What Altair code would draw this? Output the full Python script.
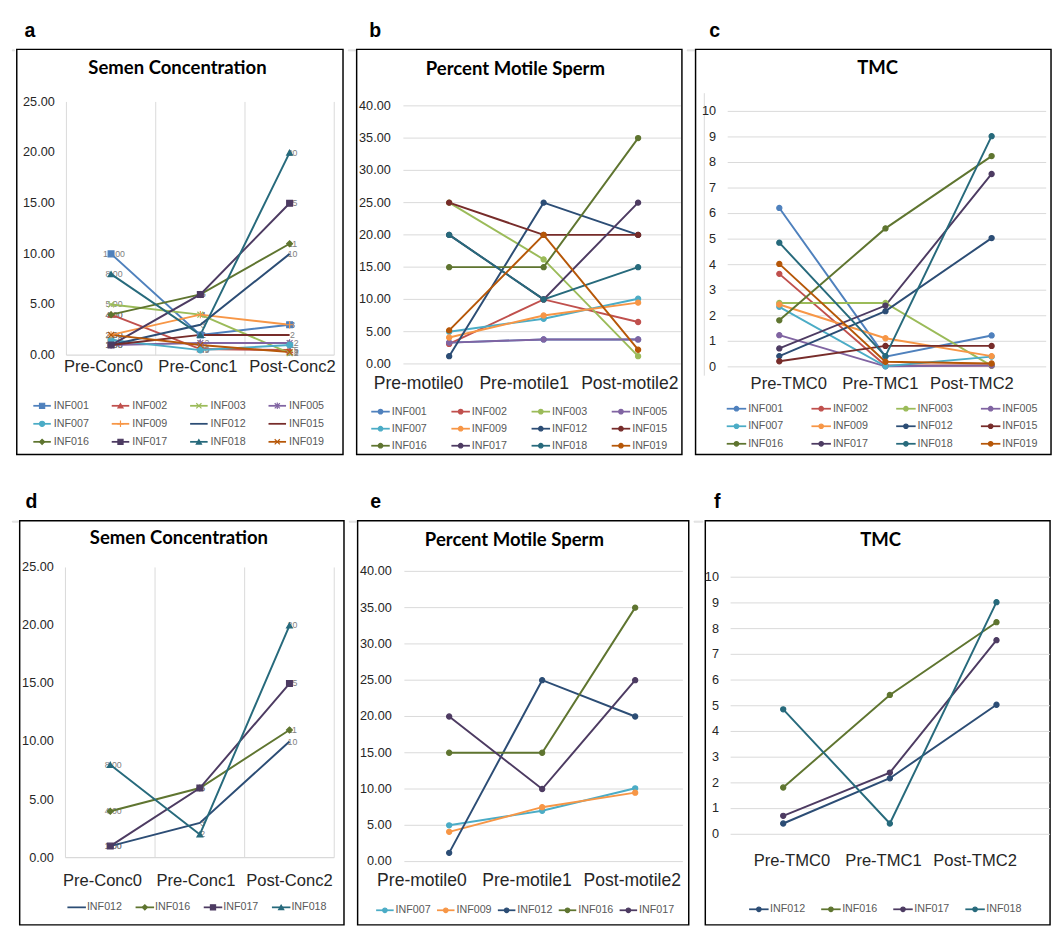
import altair as alt
import pandas as pd

# ---------------- data ----------------
SERIES = ["INF001", "INF002", "INF003", "INF005", "INF007", "INF009",
          "INF012", "INF015", "INF016", "INF017", "INF018", "INF019"]
COLORS = ["#4F81BD", "#C0504D", "#9BBB59", "#8064A2", "#4BACC6", "#F79646",
          "#2C4D75", "#772C2A", "#5F7530", "#4D3B62", "#276A7C", "#B65708"]

CONC_STAGES = ["Pre-Conc0", "Pre-Conc1", "Post-Conc2"]
MOT_STAGES = ["Pre-motile0", "Pre-motile1", "Post-motile2"]
TMC_STAGES = ["Pre-TMC0", "Pre-TMC1", "Post-TMC2"]

# semen concentration (one value per series, in SERIES order)
CONC_0 = [10, 4, 5, 1, 1.5, 2, 1, 1, 4, 1, 8, 2]
CONC_1 = [2, 0.6, 4, 1.2, 0.5, 4, 3, 2, 6, 6, 2, 1]
CONC_2 = [3, 0.5, 0.2, 1.2, 1, 3, 10, 2, 11, 15, 20, 0.3]

# percent motile sperm
MOT_0 = [3.3, 3.1, 25, 3.3, 5, 4.1, 1.2, 25, 15, 20, 20, 5.2]
MOT_1 = [3.8, 10, 16.2, 3.8, 7, 7.5, 25, 20, 15, 10, 10, 20]
MOT_2 = [3.8, 6.5, 1.2, 3.8, 10.1, 9.5, 20, 20, 35, 25, 15, 2.2]

# TMC
TMC_0 = [6.22, 3.64, 2.5, 1.24, 2.35, 2.44, 0.42, 0.22, 1.82, 0.72, 4.86, 4.03]
TMC_1 = [0.4, 0.05, 2.5, 0.02, 0.02, 1.12, 2.18, 0.82, 5.42, 2.4, 0.42, 0.2]
TMC_2 = [1.23, 0.05, 0.04, 0.05, 0.4, 0.42, 5.04, 0.82, 8.25, 7.55, 9.03, 0.13]

CONC_TICKS = [0, 5, 10, 15, 20, 25]
MOT_TICKS = [0, 5, 10, 15, 20, 25, 30, 35, 40]
TMC_TICKS = [0, 1, 2, 3, 4, 5, 6, 7, 8, 9, 10]

SUB_CONC = ["INF012", "INF016", "INF017", "INF018"]
SUB_MOT = ["INF007", "INF009", "INF012", "INF016", "INF017"]
SUB_TMC = ["INF012", "INF016", "INF017", "INF018"]

XP = "M-1,-1L1,1M-1,1L1,-1"
AST = "M-1,-1L1,1M-1,1L1,-1M0,-1.25L0,1.25"
PLUS = "M-1.25,0L1.25,0M0,-1.25L0,1.25"
CONC_SHAPES = ["square", "triangle-up", XP, AST, "circle", PLUS,
               "circle", "circle", "diamond", "square", "triangle-up", XP]
NO_MARKER = ["INF012", "INF015"]

# ---------------- style ----------------
FONT = "Liberation Sans"
TFONT = "Lato"
GRID = "#D9D9D9"
TXT = "#262626"

cs = alt.Scale(domain=SERIES, range=COLORS)
ss = alt.Scale(domain=SERIES, range=CONC_SHAPES)


def fmt(t, f):
    return f"{t:.2f}" if f == "2f" else str(t)


def panel(p):
    members = p["members"]
    shapes = p["shapes"]
    rows = []
    for si, name in enumerate(SERIES):
        if name not in members:
            continue
        for j in range(3):
            v = p["vals"][j][si]
            rows.append({"series": name, "i": j, "v": v,
                         "lab": f"{v:.2f}" if j == 0 else f"{v:g}",
                         "mk": not (shapes and name in NO_MARKER)})
    df = pd.DataFrame(rows)

    xs = alt.Scale(domain=[-0.5, 2.5], range=p["xr"], nice=False, zero=False)
    ys = alt.Scale(domain=[0, p["ymax"]], range=p["yr"], nice=False, zero=False)

    def X(f):
        return alt.X(f, scale=xs, axis=None)

    def Y(f):
        return alt.Y(f, scale=ys, axis=None)

    layers = []
    ticks = pd.DataFrame({"t": p["ticks"], "lab": [fmt(t, p["fmt"]) for t in p["ticks"]]})

    if p.get("hgrid"):
        layers.append(alt.Chart(ticks).mark_rule(color=GRID, strokeWidth=1).encode(
            y=Y("t:Q"), x=alt.value(p["gx"][0]), x2=alt.value(p["gx"][1])))
    if p.get("vgrid"):
        vb = pd.DataFrame({"b": [-0.5, 0.5, 1.5, 2.5], "y0": [0] * 4, "y1": [p["ymax"]] * 4})
        layers.append(alt.Chart(vb).mark_rule(color=GRID, strokeWidth=1).encode(
            x=X("b:Q"), y=Y("y0:Q"), y2=alt.Y2("y1:Q")))
        base = pd.DataFrame({"x0": [-0.5], "x1": [2.5], "y": [0]})
        layers.append(alt.Chart(base).mark_rule(color=GRID, strokeWidth=1.2).encode(
            x=X("x0:Q"), x2=alt.X2("x1:Q"), y=Y("y:Q")))
    if p.get("vline"):
        vl = p["vline"]
        layers.append(alt.Chart(pd.DataFrame({"z": [0]})).mark_rule(color=GRID, strokeWidth=1).encode(
            x=alt.value(vl[0]), y=alt.value(vl[1]), y2=alt.value(vl[2])))

    # y tick labels
    layers.append(alt.Chart(ticks).mark_text(
        align="right", baseline="middle", font=FONT, fontSize=13, color=TXT).encode(
        y=Y("t:Q"), x=alt.value(p["lx"]), text="lab:N"))

    # category labels
    cats = pd.DataFrame({"i": [0, 1, 2], "s": p["stages"]})
    cxs = alt.Scale(domain=[0, 2], range=p["cr"], nice=False, zero=False)
    layers.append(alt.Chart(cats).mark_text(
        align="center", baseline="middle", font=FONT, fontSize=p["cfs"], color=TXT).encode(
        x=alt.X("i:Q", scale=cxs, axis=None), y=alt.value(p["cy"]), text="s:N"))

    # panel title
    layers.append(alt.Chart(pd.DataFrame({"t": [p["title"]]})).mark_text(
        align="center", baseline="middle", font=TFONT, fontWeight="bold",
        fontSize=19, color="black").encode(
        x=alt.value(p["tcx"]), y=alt.value(p["tcy"]), text="t:N"))

    # value labels
    if p.get("vlabels"):
        layers.append(alt.Chart(df).mark_text(
            align="center", baseline="middle", font=FONT, fontSize=9, color="#808080", dx=3).encode(
            x=X("i:Q"), y=Y("v:Q"), text="lab:N"))

    # lines
    layers.append(alt.Chart(df).mark_line(strokeWidth=2).encode(
        x=X("i:Q"), y=Y("v:Q"),
        color=alt.Color("series:N", scale=cs, legend=None)))

    # markers
    def pt(xenc, yenc, size, extra=None):
        enc = dict(x=xenc, y=yenc,
                   fill=alt.Fill("series:N", scale=cs, legend=None),
                   stroke=alt.Stroke("series:N", scale=cs, legend=None))
        if shapes:
            enc["shape"] = alt.Shape("series:N", scale=ss, legend=None)
        kw = dict(filled=True, size=size, strokeWidth=1.2, opacity=1)
        if not shapes:
            kw["shape"] = "circle"
        if extra:
            kw.update(extra)
        return kw, enc

    kw, enc = pt(X("i:Q"), Y("v:Q"), p["msize"])
    layers.append(alt.Chart(df).transform_filter("datum.mk").mark_point(**kw).encode(**enc))

    # legend
    lg = p["leg"]
    nc = lg["nc"]
    lrows = []
    for k, name in enumerate(members):
        lrows.append({"series": name, "col": k % nc, "row": k // nc,
                      "mk": not (shapes and name in NO_MARKER)})
    ldf = pd.DataFrame(lrows)
    nr = max(ldf["row"].max(), 1)
    lxs = alt.Scale(domain=[0, nc - 1], range=[lg["c0"], lg["c0"] + (nc - 1) * lg["pitch"]],
                    nice=False, zero=False)
    lys = alt.Scale(domain=[0, nr], range=[lg["r0"], lg["r0"] + nr * lg["rp"]],
                    nice=False, zero=False)
    LX = alt.X("col:Q", scale=lxs, axis=None)
    LY = alt.Y("row:Q", scale=lys, axis=None)
    layers.append(alt.Chart(ldf).mark_rule(strokeWidth=1.8, x2Offset=lg["L"]).encode(
        x=LX, x2=alt.X2("col:Q"), y=LY,
        color=alt.Color("series:N", scale=cs, legend=None)))
    kw, enc = pt(LX, LY, p["lmsize"], {"xOffset": lg["L"] / 2})
    layers.append(alt.Chart(ldf).transform_filter("datum.mk").mark_point(**kw).encode(**enc))
    layers.append(alt.Chart(ldf).mark_text(
        align="left", baseline="middle", font=FONT, fontSize=11, color="#595959", dx=lg["lo"]).encode(
        x=LX, y=LY, text="series:N"))

    return alt.layer(*layers).resolve_scale(x="independent", y="independent").properties(
        width=p["W"], height=p["H"],
        view=alt.ViewBackground(stroke="black", strokeWidth=1.5),
        title=alt.TitleParams(p["letter"], anchor="start", frame="group", dx=p["dx"],
                              offset=9, fontSize=20, font=FONT, fontWeight="bold",
                              color="black"))


def spacer(w):
    return alt.Chart(pd.DataFrame({"z": [0]})).mark_point(opacity=0).encode(
        x=alt.value(0), y=alt.value(0)).properties(width=w, height=1)


A = dict(letter="a", dx=8, W=335, H=416, title="Semen Concentration", tcx=165, tcy=19,
         stages=CONC_STAGES, vals=[CONC_0, CONC_1, CONC_2], members=SERIES,
         ymax=25, ticks=CONC_TICKS, fmt="2f", xr=[51, 326], yr=[314, 54], lx=39,
         cr=[89, 283], cy=326, cfs=17, vgrid=True, shapes=True, vlabels=True,
         msize=36, lmsize=28,
         leg=dict(nc=4, c0=17, pitch=80.5, r0=366, rp=18.5, L=18, lo=21))
B = dict(letter="b", dx=13, W=334, H=416, title="Percent Motile Sperm", tcx=163, tcy=20,
         stages=MOT_STAGES, vals=[MOT_0, MOT_1, MOT_2], members=SERIES,
         ymax=40, ticks=MOT_TICKS, fmt="2f", xr=[46.5, 337.5], yr=[323, 58], lx=35,
         cr=[63.5, 280.5], cy=344, cfs=18, hgrid=True, gx=[48, 333], shapes=False,
         msize=28, lmsize=22,
         leg=dict(nc=4, c0=15, pitch=82.3, r0=372, rp=17.5, L=19, lo=21))
C = dict(letter="c", dx=14, W=365, H=416, title="TMC", tcx=187, tcy=19,
         stages=TMC_STAGES, vals=[TMC_0, TMC_1, TMC_2], members=SERIES,
         ymax=10, ticks=TMC_TICKS, fmt="d", xr=[31.5, 358.5], yr=[326, 63.7], lx=21,
         cr=[95.7, 283.8], cy=344, cfs=17, hgrid=True, gx=[33, 360], vline=[9, 45, 335],
         shapes=False, msize=28, lmsize=22,
         leg=dict(nc=4, c0=32, pitch=87, r0=369, rp=18, L=20, lo=22))
D = dict(letter="d", dx=6, W=333, H=415, title="Semen Concentration", tcx=163.5, tcy=18,
         stages=CONC_STAGES, vals=[CONC_0, CONC_1, CONC_2], members=SUB_CONC,
         ymax=25, ticks=CONC_TICKS, fmt="2f", xr=[47, 323], yr=[346, 48], lx=35,
         cr=[85, 277], cy=370, cfs=17, vgrid=True, shapes=True, vlabels=True,
         msize=36, lmsize=28,
         leg=dict(nc=4, c0=49, pitch=70, r0=397, rp=18, L=19, lo=20))
E = dict(letter="e", dx=13, W=340, H=415, title="Percent Motile Sperm", tcx=161, tcy=20,
         stages=MOT_STAGES, vals=[MOT_0, MOT_1, MOT_2], members=SUB_MOT,
         ymax=40, ticks=MOT_TICKS, fmt="2f", xr=[46.25, 332.75], yr=[350, 52], lx=35,
         cr=[66, 282], cy=370, cfs=18, hgrid=True, gx=[48, 334], shapes=False,
         msize=28, lmsize=22,
         leg=dict(nc=5, c0=19, pitch=62.5, r0=400, rp=18, L=18, lo=20))
F = dict(letter="f", dx=9, W=354, H=415, title="TMC", tcx=180, tcy=20,
         stages=TMC_STAGES, vals=[TMC_0, TMC_1, TMC_2], members=SUB_TMC,
         ymax=10, ticks=TMC_TICKS, fmt="d", xr=[25.25, 353.75], yr=[322, 58], lx=14,
         cr=[89, 277], cy=350, cfs=17, hgrid=True, gx=[26, 354], shapes=False,
         msize=28, lmsize=22,
         leg=dict(nc=4, c0=45, pitch=74, r0=399, rp=18, L=20, lo=21.5))

row1 = alt.hconcat(spacer(2), panel(A), spacer(7), panel(B), spacer(7), panel(C), spacing=0)
row2 = alt.hconcat(spacer(6), panel(D), spacer(7), panel(E), spacer(9), panel(F), spacing=0)

chart = alt.vconcat(row1, row2, spacing=37).properties(padding=0).configure_view(
    stroke="transparent").configure(background="white")

chart.save("out.html", embed_options={"renderer": "svg", "actions": False})
